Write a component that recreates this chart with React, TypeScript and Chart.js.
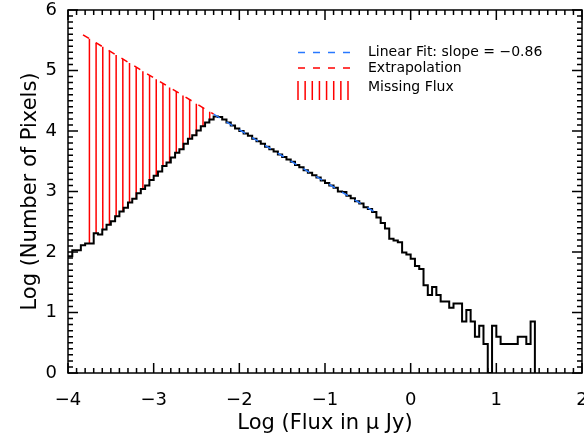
import React, { useEffect, useRef } from 'react';
import { Chart, registerables } from 'chart.js';

Chart.register(...registerables);

// Histogram: log10(number of pixels) per 0.05-dex bin of log10(flux / µJy)
const BIN_START = -4.0;
const BIN_WIDTH = 0.05;
const logCounts = [
  1.93, 2.03, 2.03, 2.11, 2.14, 2.14, 2.31, 2.29, 2.37, 2.45,
  2.51, 2.59, 2.67, 2.73, 2.82, 2.88, 2.97, 3.04, 3.10, 3.19,
  3.26, 3.33, 3.42, 3.48, 3.56, 3.64, 3.70, 3.79, 3.87, 3.93,
  4.01, 4.08, 4.14, 4.19, 4.24, 4.23, 4.19, 4.14, 4.09, 4.04,
  4.00, 3.96, 3.92, 3.87, 3.83, 3.79, 3.74, 3.70, 3.66, 3.61,
  3.57, 3.53, 3.49, 3.44, 3.40, 3.35, 3.31, 3.27, 3.23, 3.18,
  3.14, 3.10, 3.06, 3.00, 2.99, 2.93, 2.89, 2.84, 2.80, 2.74,
  2.71, 2.66, 2.57, 2.48, 2.39, 2.22, 2.19, 2.16, 1.99, 1.96,
  1.89, 1.77, 1.72, 1.45, 1.29, 1.42, 1.29, 1.18, 1.18, 1.08,
  1.15, 1.15, 0.85, 1.04, 0.85, 0.60, 0.78, 0.48, 0.00, 0.78,
  0.60, 0.48, 0.48, 0.48, 0.48, 0.60, 0.60, 0.48, 0.85,
];

// Linear fit  log N = FIT_INTERCEPT + FIT_SLOPE * log F
const FIT_SLOPE = -0.86;
const FIT_INTERCEPT = 2.30;
const FIT_RANGE = [-2.3, -0.43];
const EXTRAP_RANGE = [-3.825, -2.3];
// "Missing flux" hatch (vertical line fill between extrapolation and histogram)
const HATCH_START = -3.75;
const HATCH_STEP = 0.078;

const X_MIN = -4;
const X_MAX = 2;
const Y_MIN = 0;
const Y_MAX = 6;

const legendLabels = ['Linear Fit: slope = \u22120.86', 'Extrapolation', 'Missing Flux'];
const X_TITLE = 'Log (Flux in \u03bc Jy)';
const Y_TITLE = 'Log (Number of Pixels)';

const RED = 'rgb(255,0,0)';
const BLUE = 'rgb(40,120,255)';
const FONT = "'DejaVu Sans', sans-serif";

const fit = (x: number) => FIT_INTERCEPT + FIT_SLOPE * x;
const histAt = (x: number) => {
  const i = Math.min(logCounts.length - 1, Math.max(0, Math.floor((x - BIN_START) / BIN_WIDTH)));
  return logCounts[i];
};

const fmt = (v: number) => (v < 0 ? '\u2212' + Math.abs(v) : String(v));

const frameAndLegend = {
  id: 'frameAndLegend',
  afterDraw(chart: any) {
    const { ctx, chartArea, scales } = chart;
    const { left, right, top, bottom } = chartArea;
    const xs = scales.x;
    const ys = scales.y;
    ctx.save();
    ctx.strokeStyle = '#000';
    ctx.lineWidth = 1.5;
    ctx.strokeRect(left, top, right - left, bottom - top);
    ctx.beginPath();
    for (let k = X_MIN * 10; k <= X_MAX * 10; k++) {
      const px = xs.getPixelForValue(k / 10);
      const len = k % 10 === 0 ? 10 : 5;
      ctx.moveTo(px, bottom);
      ctx.lineTo(px, bottom - len);
      ctx.moveTo(px, top);
      ctx.lineTo(px, top + len);
    }
    for (let k = Y_MIN * 10; k <= Y_MAX * 10; k++) {
      const py = ys.getPixelForValue(k / 10);
      const len = k % 10 === 0 ? 10 : 5;
      ctx.moveTo(left, py);
      ctx.lineTo(left + len, py);
      ctx.moveTo(right, py);
      ctx.lineTo(right - len, py);
    }
    ctx.stroke();

    // legend
    const lx0 = 298;
    const lx1 = 352;
    const tx = 368;
    const rows = [52.5, 68, 87];
    ctx.lineWidth = 1.5;
    ctx.setLineDash([7, 8]);
    ctx.strokeStyle = BLUE;
    ctx.beginPath();
    ctx.moveTo(lx0, rows[0]);
    ctx.lineTo(lx1, rows[0]);
    ctx.stroke();
    ctx.strokeStyle = RED;
    ctx.beginPath();
    ctx.moveTo(lx0, rows[1]);
    ctx.lineTo(lx1, rows[1]);
    ctx.stroke();
    ctx.setLineDash([]);
    ctx.beginPath();
    for (let k = 0; k < 8; k++) {
      const hx = lx0 + (k * 50) / 7;
      ctx.moveTo(hx, 81);
      ctx.lineTo(hx, 100);
    }
    ctx.stroke();
    ctx.fillStyle = '#000';
    ctx.font = `14px ${FONT}`;
    ctx.textBaseline = 'middle';
    ctx.textAlign = 'left';
    legendLabels.forEach((t, i) => ctx.fillText(t, tx, rows[i]));
    ctx.restore();
  },
};

export default function App() {
  const ref = useRef<HTMLCanvasElement>(null);
  useEffect(() => {
    const edges = logCounts.map((_, i) => BIN_START + i * BIN_WIDTH);
    const histData = edges.map((e, i) => ({ x: e, y: logCounts[i] }));
    const lastEdge = BIN_START + logCounts.length * BIN_WIDTH;
    histData.push({ x: lastEdge, y: 0 });

    const hatchData: { x: number; y: number | null }[] = [];
    for (let hx = HATCH_START; hx < EXTRAP_RANGE[1]; hx += HATCH_STEP) {
      hatchData.push({ x: hx, y: fit(hx) });
      hatchData.push({ x: hx, y: histAt(hx) });
      hatchData.push({ x: hx, y: null });
    }

    const chart = new Chart(ref.current!, {
      type: 'line',
      data: {
        datasets: [
          {
            label: 'Linear Fit',
            data: FIT_RANGE.map((x) => ({ x, y: fit(x) })),
            borderColor: BLUE,
            borderWidth: 1.5,
            borderDash: [7, 8],
            pointRadius: 0,
            order: 0,
          },
          {
            label: 'Histogram',
            data: histData,
            borderColor: '#000',
            borderWidth: 2,
            stepped: 'before',
            pointRadius: 0,
            order: 1,
          },
          {
            label: 'Extrapolation',
            data: EXTRAP_RANGE.map((x) => ({ x, y: fit(x) })),
            borderColor: RED,
            borderWidth: 1.5,
            borderDash: [7, 8],
            pointRadius: 0,
            order: 2,
          },
          {
            label: 'Missing Flux',
            data: hatchData,
            borderColor: RED,
            borderWidth: 1.5,
            pointRadius: 0,
            spanGaps: false,
            order: 3,
          },
        ],
      },
      options: {
        animation: false,
        responsive: false,
        events: [],
        layout: { padding: { top: 10, right: 2, left: 0, bottom: 0 } },
        plugins: { legend: { display: false }, tooltip: { enabled: false } },
        scales: {
          x: {
            type: 'linear',
            min: X_MIN,
            max: X_MAX,
            grid: { display: false, drawTicks: false },
            border: { display: false },
            ticks: {
              stepSize: 1,
              padding: 17,
              color: '#000',
              font: { family: FONT, size: 18 },
              maxRotation: 0,
              autoSkip: false,
              callback: (v: any) => fmt(Number(v)),
            },
            title: {
              display: true,
              text: X_TITLE,
              color: '#000',
              font: { family: FONT, size: 21 },
              padding: { top: 0, bottom: 0 },
            },
            afterFit: (s: any) => {
              s.height = 63;
              s.paddingLeft = 0;
              s.paddingRight = 0;
            },
          },
          y: {
            type: 'linear',
            min: Y_MIN,
            max: Y_MAX,
            grid: { display: false, drawTicks: false },
            border: { display: false },
            ticks: {
              stepSize: 1,
              padding: 11,
              color: '#000',
              font: { family: FONT, size: 18 },
              callback: (v: any) => fmt(Number(v)),
            },
            title: {
              display: true,
              text: Y_TITLE,
              color: '#000',
              font: { family: FONT, size: 21 },
              padding: { top: 18, bottom: 0 },
            },
            afterFit: (s: any) => {
              s.width = 68;
              s.paddingTop = 0;
              s.paddingBottom = 0;
            },
          },
        },
      },
      plugins: [frameAndLegend],
    } as any);
    return () => chart.destroy();
  }, []);
  return (
    <div style={{ position: 'fixed', left: 0, top: 0, width: 584, height: 436, background: '#fff' }}>
      <canvas ref={ref} width={584} height={436} style={{ display: 'block' }} />
    </div>
  );
}
